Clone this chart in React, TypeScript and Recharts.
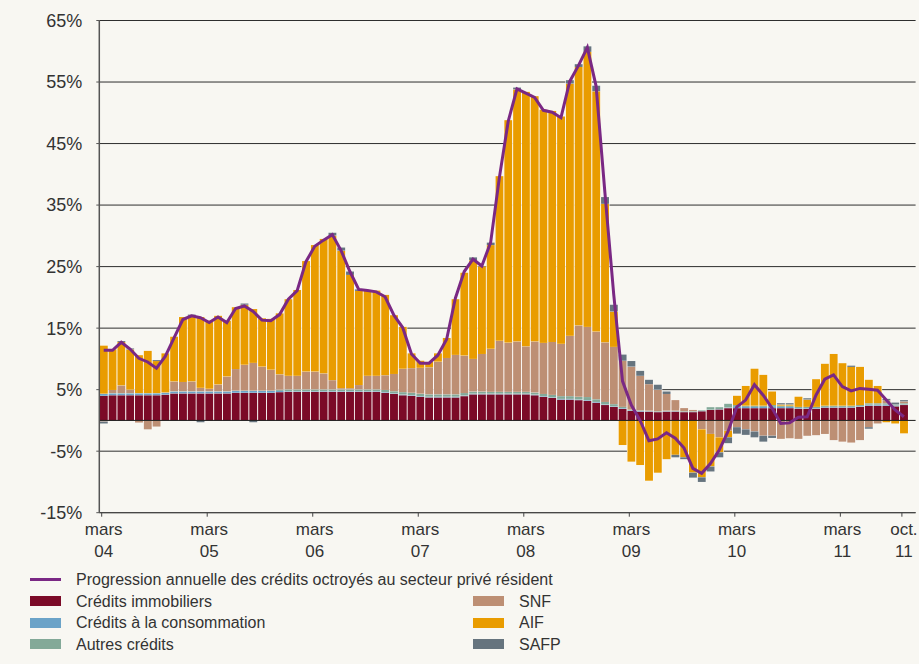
import React from "react";
import {
  ComposedChart,
  Bar,
  Line,
  XAxis,
  YAxis,
  CartesianGrid,
  ReferenceLine,
} from "recharts";

// mois de mars 2004 à octobre 2011
const MOIS = ["janv.", "févr.", "mars", "avr.", "mai", "juin", "juil.", "août", "sept.", "oct.", "nov.", "déc."];
const months: string[] = [];
for (let y = 2004; y <= 2011; y++) {
  for (let m = 0; m < 12; m++) {
    if ((y === 2004 && m < 2) || (y === 2011 && m > 9)) continue;
    months.push(`${MOIS[m]} ${String(y).slice(2)}`);
  }
}

const tickMonths = ["mars 04", "mars 05", "mars 06", "mars 07", "mars 08", "mars 09", "mars 10", "mars 11", "oct. 11"];
const yTicks = [-15, -5, 5, 15, 25, 35, 45, 55, 65];

// contributions (points de %)
const immobiliers = [
  4.0, 4.1, 4.1, 4.1, 4.1, 4.1, 4.1, 4.2, 4.4, 4.4, 4.4, 4.4,
  4.4, 4.4, 4.4, 4.5, 4.5, 4.5, 4.5, 4.5, 4.6, 4.65, 4.65, 4.65,
  4.65, 4.65, 4.65, 4.65, 4.65, 4.65, 4.65, 4.65, 4.5, 4.3, 4.1, 4.0,
  3.85, 3.75, 3.75, 3.75, 3.75, 3.95, 4.25, 4.25, 4.25, 4.25, 4.25, 4.25,
  4.25, 4.1, 3.85, 3.65, 3.4, 3.4, 3.3, 3.2, 2.9, 2.5, 2.2, 1.9,
  1.55, 1.45, 1.45, 1.35, 1.45, 1.45, 1.35, 1.35, 1.5, 1.7, 1.8, 2.0,
  2.0, 2.0, 2.0, 2.0, 2.0, 2.0, 2.0, 1.9, 1.9, 1.9, 2.1, 2.1,
  2.1, 2.1, 2.2, 2.4, 2.4, 2.4, 2.3, 2.5,
];
const consommation = [
  0.3, 0.3, 0.3, 0.3, 0.3, 0.3, 0.3, 0.3, 0.3, 0.3, 0.3, 0.3,
  0.3, 0.3, 0.3, 0.3, 0.3, 0.3, 0.3, 0.3, 0.2, 0.1, 0.1, 0.1,
  0.1, 0.1, 0.1, 0.1, 0.1, 0.1, 0.1, 0.1, 0.1, 0.1, 0.1, 0.1,
  0.1, 0.1, 0.1, 0.1, 0.1, 0.1, 0.1, 0.1, 0.1, 0.1, 0.1, 0.1,
  0.1, 0.1, 0.1, 0.1, 0.1, 0.1, 0.1, 0.1, 0.1, 0.1, 0.1, 0.1,
  0.1, 0.1, 0.05, 0.05, 0.05, 0.05, 0.05, 0.05, 0.05, 0.05, 0.05, 0.1,
  0.2, 0.2, 0.2, 0.2, 0.2, 0.2, 0.2, 0.1, 0.1, 0.1, 0.1, 0.1,
  0.1, 0.1, 0.1, 0.15, 0.15, 0.15, 0.1, 0.1,
];
const autres = [
  0.05, 0.05, 0.05, 0.05, 0.05, 0.05, 0.05, 0.05, 0.05, 0.05, 0.05, 0.05,
  0.05, 0.05, 0.05, 0.05, 0.05, 0.05, 0.05, 0.05, 0.2, 0.3, 0.3, 0.3,
  0.3, 0.3, 0.3, 0.3, 0.3, 0.3, 0.3, 0.3, 0.35, 0.35, 0.4, 0.4,
  0.4, 0.4, 0.4, 0.4, 0.4, 0.4, 0.35, 0.35, 0.3, 0.3, 0.3, 0.3,
  0.3, 0.35, 0.35, 0.4, 0.45, 0.45, 0.45, 0.5, 0.45, 0.4, 0.35, 0.2,
  0.1, 0.1, 0.1, 0.1, 0.1, 0.1, 0.1, 0.1, 0.1, 0.4, 0.3, 0.6,
  0.3, 0.2, 0.2, 0.2, 0.3, 0.2, 0.2, 0.2, 0.2, 0.2, 0.2, 0.2,
  0.2, 0.2, 0.2, 0.25, 0.25, 0.25, 0.2, 0.2,
];
const snf = [
  -0.2, 0.5, 1.25, 0.55, -0.35, -1.45, -1.0, 0, 1.6, 1.5, 1.6, 0.55,
  0.4, 1.1, 2.4, 3.5, 4.2, 4.5, 3.9, 3.4, 2.5, 2.2, 2.2, 2.9,
  2.9, 2.6, 1.5, 0.2, 0.2, 0.7, 2.2, 2.2, 2.4, 2.8, 3.8, 4.0,
  4.2, 4.4, 5.3, 5.9, 6.4, 6.1, 5.3, 6.1, 7.0, 8.3, 8.0, 8.2,
  7.4, 8.3, 8.3, 8.6, 8.5, 9.8, 11.6, 11.4, 11.0, 9.7, 9.3, 7.5,
  7.0, 5.6, 4.3, 3.5, 2.7, 1.7, 0.5, 0.2, -1.45, -2.2, -2.75, -1.7,
  -1.1, -1.45, -1.8, -2.5, -2.5, -3.0, -2.9, -3.0, -2.5, -2.4, -2.2, -3.2,
  -3.45, -3.6, -3.2, -1.1, -0.5, 0.5, 0, 0.3,
];
const aif = [
  7.8, 6.6, 7.05, 6.55, 6.15, 6.85, 5.2, 6.35, 7.25, 10.55, 10.65, 11.5,
  11.05, 11.15, 9.05, 10.05, 9.75, 8.75, 7.85, 8.25, 9.9, 12.45, 13.95, 17.95,
  20.55, 21.85, 23.5, 22.35, 18.4, 15.3, 13.95, 13.85, 13.05, 9.55, 6.8, 2.4,
  1.15, 0.85, 1.35, 3.25, 9.05, 13.45, 16.05, 14.2, 16.85, 26.75, 36.15, 40.95,
  41.35, 39.85, 37.9, 37.55, 36.95, 41.0, 42.0, 44.7, 39.05, 22.5, 5.75, -4.0,
  -6.7, -7.25, -9.8, -8.5, -6.3, -5.6, -6.0, -8.5, -7.8, -5.3, -2.45, -1.05,
  1.5, 3.2, 6.0, 5.0, 2.2, 0.2, 0.2, 1.65, 1.2, 4.5, 6.8, 8.4,
  6.9, 6.3, 6.2, 3.8, 2.8, -0.3, -0.5, -2.1,
];
const safp = [
  -0.3, 0, 0.15, 0.15, 0, 0, 0.15, 0, 0, 0, 0.2, -0.3,
  0, 0, 0, 0, 0.2, -0.3, 0, 0, 0, 0, 0, 0,
  0, 0, 0.45, 0.5, 0.55, 0.25, 0, 0, 0, 0, 0, 0,
  0, 0, 0, 0, 0, 0, 0.45, 0, 0.4, 0, 0, 0.3,
  0, 0, 0, 0, 0, 0.55, 0.45, 0.9, 0.9, 1.1, 1.1, 1.0,
  0.9, 0.8, 0.7, 0.8, 0.4, -0.4, -0.3, -0.8, -0.75, -0.8, -0.8, -0.95,
  -1.05, -0.9, -0.95, -0.95, -0.35, 0.2, 0.2, 0, 0.2, 0, 0, 0,
  0, 0.2, 0, -0.25, 0, 0.2, 0.3, 0.2,
];
// progression annuelle (%)
const progression = [
  11.4, 11.4, 12.7, 11.6, 10.1, 9.5, 8.5, 10.4, 13.4, 16.4, 17.0, 16.7,
  15.9, 16.8, 15.9, 18.2, 18.6, 17.7, 16.3, 16.2, 17.2, 19.7, 21.1, 25.8,
  28.3, 29.3, 30.2, 27.6, 24.2, 21.3, 21.1, 20.9, 20.1, 17.1, 15.1, 10.8,
  9.3, 9.3, 10.6, 13.2, 19.9, 24.2, 26.2, 25.1, 28.9, 39.5, 48.6, 53.9,
  53.2, 52.5, 50.4, 50.1, 49.2, 55.1, 57.7, 60.6, 54.3, 37.0, 20.5, 6.4,
  2.5, 0.0, -3.3, -3.0, -2.0, -2.9, -4.5, -7.8, -8.6, -7.0, -4.8, -1.8,
  2.2, 3.3, 5.8, 4.1, 2.0, -0.5, -0.4, 0.5, 0.6, 4.1, 6.7, 7.4,
  5.5, 4.8, 5.2, 5.05, 4.9, 3.3, 1.7, 0.6,
];

const COLORS = {
  immo: "#7b0a27",
  conso: "#6ba3c8",
  autres: "#83a998",
  snf: "#bd8f74",
  aif: "#e99c00",
  safp: "#66747e",
  line: "#7a2884",
};

const FONT = "'Liberation Sans', Arial, sans-serif";
const TEXT = "#333";

const data = months.map((mois, i) => ({
  mois,
  immobiliers: immobiliers[i],
  consommation: consommation[i],
  autres: autres[i],
  snf: snf[i],
  aif: aif[i],
  safp: safp[i],
  progression: progression[i],
}));

// barre avec un filet blanc entre les mois
const barShape = (color: string) => (props: any) => {
  const { x, y, width, height } = props;
  if (!height || !width) return <g />;
  const top = Math.min(y, y + height);
  const h = Math.abs(height);
  return (
    <g>
      <rect x={x} y={top} width={width} height={h} fill="#fff" />
      <rect x={x + 0.55} y={top} width={width - 1.1} height={h} fill={color} />
    </g>
  );
};

const MonthTick = ({ x, y, payload }: any) => {
  const [m, yr] = String(payload.value).split(" ");
  return (
    <g>
      <line x1={x - 2} x2={x - 2} y1={y} y2={y + 4} stroke="#444" />
      <text x={x} y={y + 22} textAnchor="middle" fill={TEXT} fontSize={17} fontFamily={FONT}>
        {m}
      </text>
      <text x={x} y={y + 44} textAnchor="middle" fill={TEXT} fontSize={17} fontFamily={FONT}>
        {yr}
      </text>
    </g>
  );
};

const legendLeft = [
  { label: "Crédits immobiliers", color: COLORS.immo },
  { label: "Crédits à la consommation", color: COLORS.conso },
  { label: "Autres crédits", color: COLORS.autres },
];
const legendRight = [
  { label: "SNF", color: COLORS.snf },
  { label: "AIF", color: COLORS.aif },
  { label: "SAFP", color: COLORS.safp },
];

const Swatch = ({ color }: { color: string }) => (
  <span style={{ display: "inline-block", width: 31, height: 10, background: color, marginRight: 15 }} />
);

export default function App() {
  return (
    <div
      style={{
        position: "absolute",
        left: 0,
        top: 0,
        width: 919,
        height: 664,
        background: "#f8f7f2",
        fontFamily: FONT,
        color: TEXT,
      }}
    >
      <ComposedChart
        width={919}
        height={560}
        data={data}
        stackOffset="sign"
        barCategoryGap={0}
        margin={{ top: 20.5, right: 3.4, left: 0, bottom: 0 }}
      >
        <CartesianGrid yAxisId="l" vertical={false} stroke="#2e2e2e" />
        <XAxis
          dataKey="mois"
          ticks={tickMonths}
          interval={0}
          tick={<MonthTick />}
          tickLine={false}
          tickSize={0}
          tickMargin={0}
          axisLine={{ stroke: "#444" }}
          height={47.3}
          padding={{ left: 0, right: 7.3 }}
        />
        <YAxis
          yAxisId="l"
          width={99.3}
          domain={[-15, 65]}
          ticks={yTicks}
          tickFormatter={(v) => `${v}%`}
          tick={{ fill: TEXT, fontSize: 18, fontFamily: FONT }}
          tickLine={{ stroke: "#555" }}
          tickSize={3}
          tickMargin={14}
          axisLine={{ stroke: "#555", strokeWidth: 1.5 }}
        />
        <YAxis
          yAxisId="r"
          orientation="right"
          width={0}
          domain={[-15, 65]}
          tick={false}
          tickLine={false}
          axisLine={{ stroke: "#222", strokeWidth: 1.5 }}
        />
        <Bar yAxisId="l" dataKey="immobiliers" stackId="c" fill={COLORS.immo} shape={barShape(COLORS.immo)} isAnimationActive={false} />
        <Bar yAxisId="l" dataKey="consommation" stackId="c" fill={COLORS.conso} shape={barShape(COLORS.conso)} isAnimationActive={false} />
        <Bar yAxisId="l" dataKey="autres" stackId="c" fill={COLORS.autres} shape={barShape(COLORS.autres)} isAnimationActive={false} />
        <Bar yAxisId="l" dataKey="snf" stackId="c" fill={COLORS.snf} shape={barShape(COLORS.snf)} isAnimationActive={false} />
        <Bar yAxisId="l" dataKey="aif" stackId="c" fill={COLORS.aif} shape={barShape(COLORS.aif)} isAnimationActive={false} />
        <Bar yAxisId="l" dataKey="safp" stackId="c" fill={COLORS.safp} shape={barShape(COLORS.safp)} isAnimationActive={false} />
        <ReferenceLine yAxisId="l" y={0} stroke="#1a1a1a" strokeWidth={1} />
        <Line
          yAxisId="l"
          type="linear"
          dataKey="progression"
          stroke={COLORS.line}
          strokeWidth={3}
          dot={false}
          isAnimationActive={false}
        />
      </ComposedChart>

      {/* légende */}
      <div style={{ position: "absolute", left: 30, top: 569, fontSize: 16, lineHeight: "21.5px" }}>
        <div style={{ display: "flex", alignItems: "center", height: 21.5 }}>
          <span style={{ display: "inline-block", width: 31, height: 3, background: COLORS.line, marginRight: 15 }} />
          Progression annuelle des crédits octroyés au secteur privé résident
        </div>
        {legendLeft.map((l, i) => (
          <div key={l.label} style={{ display: "flex", alignItems: "center", height: 21.5 }}>
            <div style={{ width: 443, display: "flex", alignItems: "center" }}>
              <Swatch color={l.color} />
              {l.label}
            </div>
            <div style={{ display: "flex", alignItems: "center" }}>
              <Swatch color={legendRight[i].color} />
              {legendRight[i].label}
            </div>
          </div>
        ))}
      </div>
    </div>
  );
}
